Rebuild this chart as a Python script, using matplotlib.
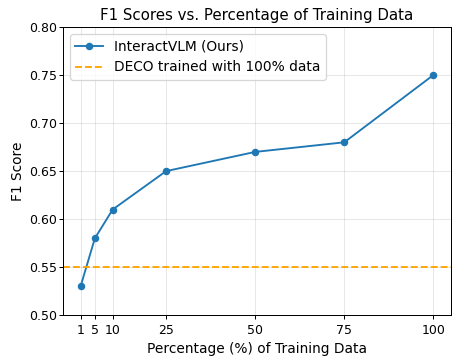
import matplotlib
matplotlib.use('Agg')
import matplotlib.pyplot as plt

# percentage of training data and F1 scores
percentages = [1, 5, 10, 25, 50, 75, 100]
f1_scores = [0.53, 0.58, 0.61, 0.65, 0.67, 0.68, 0.75]
deco_f1 = 0.55

DPI = 90
fig, ax = plt.subplots(figsize=(463 / DPI, 361 / DPI), dpi=DPI)
fig.subplots_adjust(left=0.136, right=0.974, top=0.925, bottom=0.127)

ax.plot(percentages, f1_scores, marker='o', markersize=5, linewidth=1.5,
        color='#1f77b4', label='InteractVLM (Ours)')
ax.axhline(deco_f1, color='orange', linestyle='--', linewidth=1.5,
           label='DECO trained with 100% data')

ax.set_xticks(percentages)
ax.set_ylim(0.50, 0.80)
ax.tick_params(labelsize=10)
ax.tick_params(axis='y', pad=1.5)
ax.set_xlabel('Percentage (%) of Training Data', fontsize=11)
ax.set_ylabel('F1 Score', fontsize=11, labelpad=3)
ax.set_title('F1 Scores vs. Percentage of Training Data', fontsize=12)
ax.grid(True, alpha=0.3)
ax.legend(loc='upper left', fontsize=11)

fig.savefig('out.png', dpi=DPI)
